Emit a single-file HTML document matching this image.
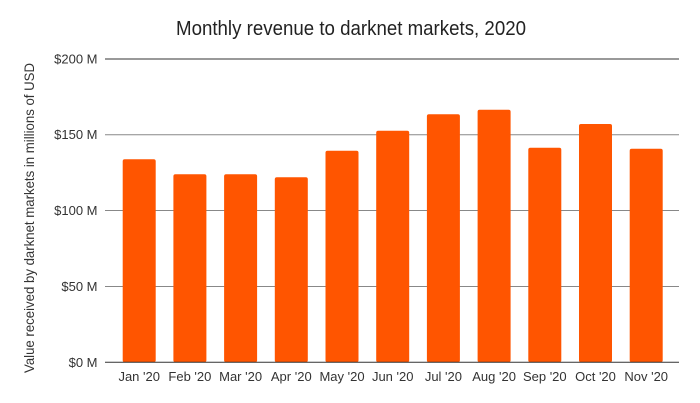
<!DOCTYPE html>
<html>
<head>
<meta charset="utf-8">
<style>
html,body{margin:0;padding:0;background:#fff;}
svg{display:block;}
text{font-family:"Liberation Sans",sans-serif;}
</style>
</head>
<body>
<svg width="700" height="403" viewBox="0 0 700 403" xmlns="http://www.w3.org/2000/svg">
<rect width="700" height="403" fill="#fff"/>
<text x="351" y="35" font-size="20" fill="#222" text-anchor="middle" textLength="350" lengthAdjust="spacingAndGlyphs">Monthly revenue to darknet markets, 2020</text>
<text transform="translate(34,218) rotate(-90)" x="0" y="0" font-size="14" fill="#333" text-anchor="middle" textLength="310" lengthAdjust="spacingAndGlyphs">Value received by darknet markets in millions of USD</text>
<!-- gridlines -->
<line x1="105" y1="59" x2="679" y2="59" stroke="#333" stroke-width="1"/>
<line x1="105" y1="134.7" x2="679" y2="134.7" stroke="#888" stroke-width="1"/>
<line x1="105" y1="210.5" x2="679" y2="210.5" stroke="#888" stroke-width="1"/>
<line x1="105" y1="286.5" x2="679" y2="286.5" stroke="#888" stroke-width="1"/>
<!-- y labels -->
<g font-size="13" fill="#333" text-anchor="end">
<text x="97.5" y="63.5">$200 M</text>
<text x="97.5" y="139.2">$150 M</text>
<text x="97.5" y="215">$100 M</text>
<text x="97.5" y="291">$50 M</text>
<text x="97.5" y="366.8">$0 M</text>
</g>
<!-- bars -->
<g fill="#FF5500">
<rect x="122.7" y="159.3" width="33" height="203" rx="2"/>
<rect x="173.4" y="174.3" width="33" height="188" rx="2"/>
<rect x="224.1" y="174.3" width="33" height="188" rx="2"/>
<rect x="274.8" y="177.3" width="33" height="185" rx="2"/>
<rect x="325.5" y="150.7" width="33" height="211.6" rx="2"/>
<rect x="376.2" y="130.7" width="33" height="231.6" rx="2"/>
<rect x="426.9" y="114.3" width="33" height="248" rx="2"/>
<rect x="477.6" y="109.7" width="33" height="252.6" rx="2"/>
<rect x="528.3" y="147.7" width="33" height="214.6" rx="2"/>
<rect x="579" y="124" width="33" height="238.3" rx="2"/>
<rect x="629.7" y="148.7" width="33" height="213.6" rx="2"/>
</g>
<line x1="105" y1="362.3" x2="679" y2="362.3" stroke="#333" stroke-width="1"/>
<!-- x labels -->
<g font-size="13" fill="#333" text-anchor="middle">
<text x="139.2" y="381">Jan '20</text>
<text x="189.9" y="381">Feb '20</text>
<text x="240.6" y="381">Mar '20</text>
<text x="291.3" y="381">Apr '20</text>
<text x="342" y="381">May '20</text>
<text x="392.7" y="381">Jun '20</text>
<text x="443.4" y="381">Jul '20</text>
<text x="494.1" y="381">Aug '20</text>
<text x="544.8" y="381">Sep '20</text>
<text x="595.5" y="381">Oct '20</text>
<text x="646.2" y="381">Nov '20</text>
</g>
</svg>
</body>
</html>
